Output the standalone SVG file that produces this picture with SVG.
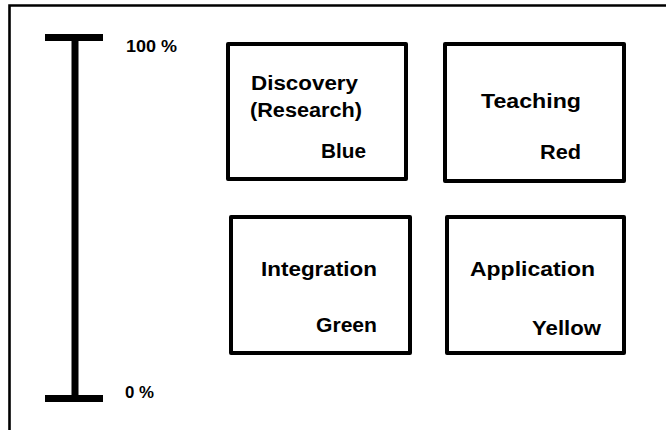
<svg xmlns="http://www.w3.org/2000/svg" width="666" height="430" viewBox="0 0 666 430">
<style>
.frame{fill:none;stroke:#000;stroke-width:2.6}
.box{fill:#fff;stroke:#000;stroke-width:4;stroke-linejoin:round}
.bar{stroke:#000;stroke-width:7;fill:none}
.t{font-family:"Liberation Sans",Arial,sans-serif;font-weight:bold;font-size:20px;fill:#000}
.p{font-family:"Liberation Sans",Arial,sans-serif;font-weight:bold;font-size:16px;fill:#000}
</style>
<rect width="666" height="430" fill="#fff"/>
<g id="frame">
<path class="frame" d="M9.5,430 V5.5 H666"/>
</g>
<g id="scale">
<line class="bar" x1="45" y1="37.5" x2="103" y2="37.5"/>
<line class="bar" x1="75" y1="37.5" x2="75" y2="398.5"/>
<line class="bar" x1="45" y1="398.5" x2="103" y2="398.5"/>
<text class="p" x="126" y="52" textLength="51" lengthAdjust="spacingAndGlyphs">100 %</text>
<text class="p" x="125" y="398" textLength="29" lengthAdjust="spacingAndGlyphs">0 %</text>
</g>
<g id="discovery">
<rect class="box" x="228" y="44" width="178" height="135"/>
<text class="t" x="251" y="90" textLength="107" lengthAdjust="spacingAndGlyphs">Discovery</text>
<text class="t" x="250" y="117" textLength="112" lengthAdjust="spacingAndGlyphs">(Research)</text>
<text class="t" x="321" y="158" textLength="45" lengthAdjust="spacingAndGlyphs">Blue</text>
</g>
<g id="teaching">
<rect class="box" x="445" y="44" width="179" height="137"/>
<text class="t" x="481" y="108" textLength="100" lengthAdjust="spacingAndGlyphs">Teaching</text>
<text class="t" x="540" y="159" textLength="41" lengthAdjust="spacingAndGlyphs">Red</text>
</g>
<g id="integration">
<rect class="box" x="231" y="217" width="179" height="136"/>
<text class="t" x="261" y="276" textLength="116" lengthAdjust="spacingAndGlyphs">Integration</text>
<text class="t" x="316" y="332" textLength="61" lengthAdjust="spacingAndGlyphs">Green</text>
</g>
<g id="application">
<rect class="box" x="447" y="217" width="177" height="136"/>
<text class="t" x="470" y="276" textLength="125" lengthAdjust="spacingAndGlyphs">Application</text>
<text class="t" x="532" y="335" textLength="69" lengthAdjust="spacingAndGlyphs">Yellow</text>
</g>
<g id="connectors"/>
</svg>
